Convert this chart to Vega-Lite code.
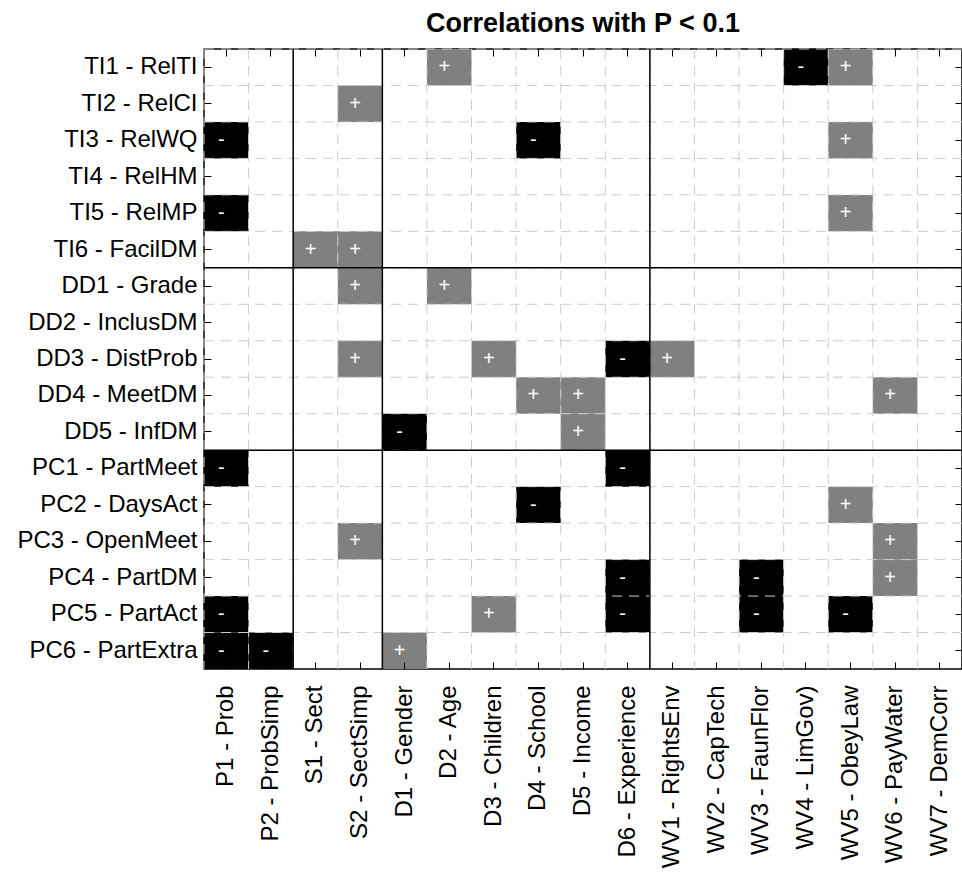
{
  "$schema": "https://vega.github.io/schema/vega-lite/v6.json",
  "width": 758,
  "height": 620,
  "autosize": {"type": "none"},
  "padding": {"left": 204, "top": 49, "right": 0, "bottom": 204},
  "background": "white",
  "config": {
    "view": {"stroke": "#000000", "strokeWidth": 1.5},
    "font": "Liberation Sans",
    "axis": {"labelFont": "Liberation Sans", "labelColor": "#000000", "tickColor": "#000000", "tickWidth": 1, "labelFontSize": 24, "labelLimit": 400, "title": null}
  },
  "title": {"text": "Correlations with P < 0.1", "font": "Liberation Sans", "fontSize": 27, "fontWeight": "bold", "color": "#000000", "anchor": "middle", "frame": "group", "offset": 10},
  "datasets": {
    "cells": [
      {"row": "TI1 - RelTI", "col": "D2 - Age", "sign": "+"},
      {"row": "TI1 - RelTI", "col": "WV4 - LimGov)", "sign": "-"},
      {"row": "TI1 - RelTI", "col": "WV5 - ObeyLaw", "sign": "+"},
      {"row": "TI2 - RelCI", "col": "S2 - SectSimp", "sign": "+"},
      {"row": "TI3 - RelWQ", "col": "P1 - Prob", "sign": "-"},
      {"row": "TI3 - RelWQ", "col": "D4 - School", "sign": "-"},
      {"row": "TI3 - RelWQ", "col": "WV5 - ObeyLaw", "sign": "+"},
      {"row": "TI5 - RelMP", "col": "P1 - Prob", "sign": "-"},
      {"row": "TI5 - RelMP", "col": "WV5 - ObeyLaw", "sign": "+"},
      {"row": "TI6 - FacilDM", "col": "S1 - Sect", "sign": "+"},
      {"row": "TI6 - FacilDM", "col": "S2 - SectSimp", "sign": "+"},
      {"row": "DD1 - Grade", "col": "S2 - SectSimp", "sign": "+"},
      {"row": "DD1 - Grade", "col": "D2 - Age", "sign": "+"},
      {"row": "DD3 - DistProb", "col": "S2 - SectSimp", "sign": "+"},
      {"row": "DD3 - DistProb", "col": "D3 - Children", "sign": "+"},
      {"row": "DD3 - DistProb", "col": "D6 - Experience", "sign": "-"},
      {"row": "DD3 - DistProb", "col": "WV1 - RightsEnv", "sign": "+"},
      {"row": "DD4 - MeetDM", "col": "D4 - School", "sign": "+"},
      {"row": "DD4 - MeetDM", "col": "D5 - Income", "sign": "+"},
      {"row": "DD4 - MeetDM", "col": "WV6 - PayWater", "sign": "+"},
      {"row": "DD5 - InfDM", "col": "D1 - Gender", "sign": "-"},
      {"row": "DD5 - InfDM", "col": "D5 - Income", "sign": "+"},
      {"row": "PC1 - PartMeet", "col": "P1 - Prob", "sign": "-"},
      {"row": "PC1 - PartMeet", "col": "D6 - Experience", "sign": "-"},
      {"row": "PC2 - DaysAct", "col": "D4 - School", "sign": "-"},
      {"row": "PC2 - DaysAct", "col": "WV5 - ObeyLaw", "sign": "+"},
      {"row": "PC3 - OpenMeet", "col": "S2 - SectSimp", "sign": "+"},
      {"row": "PC3 - OpenMeet", "col": "WV6 - PayWater", "sign": "+"},
      {"row": "PC4 - PartDM", "col": "D6 - Experience", "sign": "-"},
      {"row": "PC4 - PartDM", "col": "WV3 - FaunFlor", "sign": "-"},
      {"row": "PC4 - PartDM", "col": "WV6 - PayWater", "sign": "+"},
      {"row": "PC5 - PartAct", "col": "P1 - Prob", "sign": "-"},
      {"row": "PC5 - PartAct", "col": "D3 - Children", "sign": "+"},
      {"row": "PC5 - PartAct", "col": "D6 - Experience", "sign": "-"},
      {"row": "PC5 - PartAct", "col": "WV3 - FaunFlor", "sign": "-"},
      {"row": "PC5 - PartAct", "col": "WV5 - ObeyLaw", "sign": "-"},
      {"row": "PC6 - PartExtra", "col": "P1 - Prob", "sign": "-"},
      {"row": "PC6 - PartExtra", "col": "P2 - ProbSimp", "sign": "-"},
      {"row": "PC6 - PartExtra", "col": "D1 - Gender", "sign": "+"}
    ],
    "cols": [
      {"col": "P1 - Prob"}, {"col": "P2 - ProbSimp"}, {"col": "S1 - Sect"}, {"col": "S2 - SectSimp"},
      {"col": "D1 - Gender"}, {"col": "D2 - Age"}, {"col": "D3 - Children"}, {"col": "D4 - School"},
      {"col": "D5 - Income"}, {"col": "D6 - Experience"}, {"col": "WV1 - RightsEnv"}, {"col": "WV2 - CapTech"},
      {"col": "WV3 - FaunFlor"}, {"col": "WV4 - LimGov)"}, {"col": "WV5 - ObeyLaw"}, {"col": "WV6 - PayWater"},
      {"col": "WV7 - DemCorr"}
    ],
    "rows": [
      {"row": "TI1 - RelTI"}, {"row": "TI2 - RelCI"}, {"row": "TI3 - RelWQ"}, {"row": "TI4 - RelHM"},
      {"row": "TI5 - RelMP"}, {"row": "TI6 - FacilDM"}, {"row": "DD1 - Grade"}, {"row": "DD2 - InclusDM"},
      {"row": "DD3 - DistProb"}, {"row": "DD4 - MeetDM"}, {"row": "DD5 - InfDM"}, {"row": "PC1 - PartMeet"},
      {"row": "PC2 - DaysAct"}, {"row": "PC3 - OpenMeet"}, {"row": "PC4 - PartDM"}, {"row": "PC5 - PartAct"},
      {"row": "PC6 - PartExtra"}
    ],
    "sepCols": [{"col": "S1 - Sect"}, {"col": "D1 - Gender"}, {"col": "WV1 - RightsEnv"}],
    "sepRows": [{"row": "DD1 - Grade"}, {"row": "PC1 - PartMeet"}]
  },
  "resolve": {"axis": {"x": "independent", "y": "independent"}},
  "layer": [
    {
      "data": {"name": "cells"},
      "mark": {"type": "rect"},
      "encoding": {
        "x": {
          "field": "col", "type": "nominal",
          "scale": {"type": "band", "paddingInner": 0, "paddingOuter": 0, "domain": ["P1 - Prob", "P2 - ProbSimp", "S1 - Sect", "S2 - SectSimp", "D1 - Gender", "D2 - Age", "D3 - Children", "D4 - School", "D5 - Income", "D6 - Experience", "WV1 - RightsEnv", "WV2 - CapTech", "WV3 - FaunFlor", "WV4 - LimGov)", "WV5 - ObeyLaw", "WV6 - PayWater", "WV7 - DemCorr"]},
          "axis": {"orient": "bottom", "labelAngle": -90, "offset": -7, "tickSize": 7, "domain": false, "grid": false, "labelPadding": 16}
        },
        "y": {
          "field": "row", "type": "nominal",
          "scale": {"type": "band", "paddingInner": 0, "paddingOuter": 0, "domain": ["TI1 - RelTI", "TI2 - RelCI", "TI3 - RelWQ", "TI4 - RelHM", "TI5 - RelMP", "TI6 - FacilDM", "DD1 - Grade", "DD2 - InclusDM", "DD3 - DistProb", "DD4 - MeetDM", "DD5 - InfDM", "PC1 - PartMeet", "PC2 - DaysAct", "PC3 - OpenMeet", "PC4 - PartDM", "PC5 - PartAct", "PC6 - PartExtra"]},
          "axis": {"orient": "left", "offset": -7, "tickSize": 7, "domain": false, "grid": false, "labelPadding": 7}
        },
        "color": {"field": "sign", "type": "nominal", "scale": {"domain": ["+", "-"], "range": ["#808080", "#000000"]}, "legend": null}
      }
    },
    {
      "data": {"name": "cols"},
      "mark": {"type": "rule", "color": "#cccccc", "strokeWidth": 1, "strokeDash": [10, 7]},
      "encoding": {
        "x": {"field": "col", "type": "nominal", "bandPosition": 0, "axis": null}
      }
    },
    {
      "data": {"name": "rows"},
      "mark": {"type": "rule", "color": "#cccccc", "strokeWidth": 1, "strokeDash": [10, 7]},
      "encoding": {
        "y": {"field": "row", "type": "nominal", "bandPosition": 0, "axis": null}
      }
    },
    {
      "data": {"name": "sepCols"},
      "mark": {"type": "rule", "color": "#000000", "strokeWidth": 1.5},
      "encoding": {
        "x": {"field": "col", "type": "nominal", "bandPosition": 0, "axis": null}
      }
    },
    {
      "data": {"name": "sepRows"},
      "mark": {"type": "rule", "color": "#000000", "strokeWidth": 1.5},
      "encoding": {
        "y": {"field": "row", "type": "nominal", "bandPosition": 0, "axis": null}
      }
    },
    {
      "data": {"name": "cells"},
      "mark": {"type": "text", "color": "#ffffff", "fontSize": 20, "font": "Liberation Sans", "dx": -5, "baseline": "middle", "align": "center"},
      "encoding": {
        "x": {"field": "col", "type": "nominal", "axis": {"orient": "top", "offset": -7, "tickSize": 7, "labels": false, "domain": false, "grid": false}},
        "y": {"field": "row", "type": "nominal", "axis": {"orient": "right", "offset": -7, "tickSize": 7, "labels": false, "domain": false, "grid": false}},
        "text": {"field": "sign"}
      }
    }
  ]
}
